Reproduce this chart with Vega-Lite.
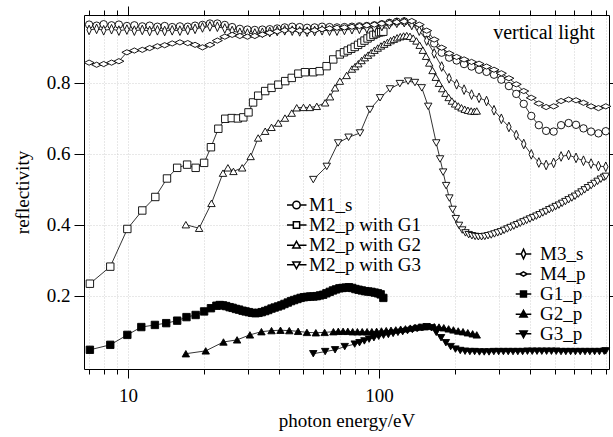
{
"$schema": "https://vega.github.io/schema/vega-lite/v6.json",
"width": 525, "height": 354,
"autosize": "none",
"padding": {"left": 84, "top": 15, "right": 4, "bottom": 68},
"config": {"font": "Liberation Serif", "view": {"stroke": null},
 "axis": {"labelFont": "Liberation Serif", "titleFont": "Liberation Serif", "labelFontSize": 19, "titleFontSize": 19, "titleFontWeight": "normal", "labelColor": "black", "titleColor": "black", "domainColor": "black", "tickColor": "black", "domainWidth": 1, "tickWidth": 1},
 "legend": {"symbolBaseStrokeColor": "black", "symbolBaseFillColor": "white"}},
"data": {"values": [
{"s":"M1_s","e":7,"r":0.963},{"s":"M1_s","e":7.5,"r":0.96},{"s":"M1_s","e":8,"r":0.964},{"s":"M1_s","e":8.6,"r":0.961},{"s":"M1_s","e":9.2,"r":0.963},{"s":"M1_s","e":9.9,"r":0.959},{"s":"M1_s","e":10.6,"r":0.961},{"s":"M1_s","e":11.4,"r":0.958},{"s":"M1_s","e":12.2,"r":0.96},{"s":"M1_s","e":13.1,"r":0.957},{"s":"M1_s","e":14,"r":0.959},{"s":"M1_s","e":15,"r":0.956},{"s":"M1_s","e":16.1,"r":0.958},{"s":"M1_s","e":17.3,"r":0.957},{"s":"M1_s","e":18.5,"r":0.96},{"s":"M1_s","e":19.8,"r":0.962},{"s":"M1_s","e":21.2,"r":0.966},{"s":"M1_s","e":22.7,"r":0.966},{"s":"M1_s","e":24.3,"r":0.962},{"s":"M1_s","e":26,"r":0.956},{"s":"M1_s","e":27.9,"r":0.951},{"s":"M1_s","e":29.9,"r":0.949},{"s":"M1_s","e":32,"r":0.948},{"s":"M1_s","e":34.3,"r":0.949},{"s":"M1_s","e":36.7,"r":0.95},{"s":"M1_s","e":39.3,"r":0.952},{"s":"M1_s","e":42.1,"r":0.955},{"s":"M1_s","e":45.1,"r":0.957},{"s":"M1_s","e":48.3,"r":0.956},{"s":"M1_s","e":51.7,"r":0.954},{"s":"M1_s","e":55.4,"r":0.955},{"s":"M1_s","e":59.3,"r":0.957},{"s":"M1_s","e":63.5,"r":0.956},{"s":"M1_s","e":68,"r":0.955},{"s":"M1_s","e":72.8,"r":0.956},{"s":"M1_s","e":78,"r":0.957},{"s":"M1_s","e":83.5,"r":0.958},{"s":"M1_s","e":89.4,"r":0.959},{"s":"M1_s","e":95.8,"r":0.961},{"s":"M1_s","e":102.6,"r":0.964},{"s":"M1_s","e":109.9,"r":0.968},{"s":"M1_s","e":117.7,"r":0.971},{"s":"M1_s","e":126,"r":0.972},{"s":"M1_s","e":135,"r":0.967},{"s":"M1_s","e":144.6,"r":0.955},{"s":"M1_s","e":154.8,"r":0.938},{"s":"M1_s","e":165.8,"r":0.91},{"s":"M1_s","e":177.6,"r":0.884},{"s":"M1_s","e":190.2,"r":0.87},{"s":"M1_s","e":203.7,"r":0.862},{"s":"M1_s","e":218.1,"r":0.852},{"s":"M1_s","e":233.6,"r":0.845},{"s":"M1_s","e":250.2,"r":0.836},{"s":"M1_s","e":268,"r":0.83},{"s":"M1_s","e":287,"r":0.822},{"s":"M1_s","e":307,"r":0.808},{"s":"M1_s","e":329,"r":0.79},{"s":"M1_s","e":352,"r":0.768},{"s":"M1_s","e":377,"r":0.74},{"s":"M1_s","e":404,"r":0.706},{"s":"M1_s","e":433,"r":0.68},{"s":"M1_s","e":463,"r":0.664},{"s":"M1_s","e":496,"r":0.662},{"s":"M1_s","e":531,"r":0.68},{"s":"M1_s","e":569,"r":0.686},{"s":"M1_s","e":609,"r":0.681},{"s":"M1_s","e":652,"r":0.671},{"s":"M1_s","e":699,"r":0.662},{"s":"M1_s","e":748,"r":0.657},{"s":"M1_s","e":800,"r":0.663},
{"s":"M3_s","e":7,"r":0.948},{"s":"M3_s","e":7.5,"r":0.951},{"s":"M3_s","e":8,"r":0.947},{"s":"M3_s","e":8.6,"r":0.95},{"s":"M3_s","e":9.2,"r":0.946},{"s":"M3_s","e":9.9,"r":0.949},{"s":"M3_s","e":10.6,"r":0.946},{"s":"M3_s","e":11.4,"r":0.948},{"s":"M3_s","e":12.2,"r":0.945},{"s":"M3_s","e":13.1,"r":0.947},{"s":"M3_s","e":14,"r":0.945},{"s":"M3_s","e":15,"r":0.947},{"s":"M3_s","e":16.1,"r":0.946},{"s":"M3_s","e":17.3,"r":0.948},{"s":"M3_s","e":18.5,"r":0.951},{"s":"M3_s","e":19.8,"r":0.955},{"s":"M3_s","e":21.2,"r":0.958},{"s":"M3_s","e":22.7,"r":0.957},{"s":"M3_s","e":24.3,"r":0.952},{"s":"M3_s","e":26,"r":0.945},{"s":"M3_s","e":27.9,"r":0.94},{"s":"M3_s","e":29.9,"r":0.938},{"s":"M3_s","e":32,"r":0.938},{"s":"M3_s","e":34.3,"r":0.94},{"s":"M3_s","e":36.7,"r":0.942},{"s":"M3_s","e":39.3,"r":0.945},{"s":"M3_s","e":42.1,"r":0.947},{"s":"M3_s","e":45.1,"r":0.946},{"s":"M3_s","e":48.3,"r":0.944},{"s":"M3_s","e":51.7,"r":0.943},{"s":"M3_s","e":55.4,"r":0.945},{"s":"M3_s","e":59.3,"r":0.947},{"s":"M3_s","e":63.5,"r":0.946},{"s":"M3_s","e":68,"r":0.946},{"s":"M3_s","e":72.8,"r":0.948},{"s":"M3_s","e":78,"r":0.95},{"s":"M3_s","e":83.5,"r":0.951},{"s":"M3_s","e":89.4,"r":0.953},{"s":"M3_s","e":95.8,"r":0.955},{"s":"M3_s","e":102.6,"r":0.959},{"s":"M3_s","e":109.9,"r":0.964},{"s":"M3_s","e":117.7,"r":0.968},{"s":"M3_s","e":126,"r":0.97},{"s":"M3_s","e":135,"r":0.962},{"s":"M3_s","e":144.6,"r":0.946},{"s":"M3_s","e":154.8,"r":0.918},{"s":"M3_s","e":165.8,"r":0.882},{"s":"M3_s","e":177.6,"r":0.845},{"s":"M3_s","e":190.2,"r":0.812},{"s":"M3_s","e":203.7,"r":0.795},{"s":"M3_s","e":218.1,"r":0.78},{"s":"M3_s","e":233.6,"r":0.766},{"s":"M3_s","e":250.2,"r":0.757},{"s":"M3_s","e":268,"r":0.748},{"s":"M3_s","e":287,"r":0.722},{"s":"M3_s","e":307,"r":0.698},{"s":"M3_s","e":329,"r":0.675},{"s":"M3_s","e":352,"r":0.652},{"s":"M3_s","e":377,"r":0.627},{"s":"M3_s","e":404,"r":0.598},{"s":"M3_s","e":433,"r":0.575},{"s":"M3_s","e":463,"r":0.568},{"s":"M3_s","e":496,"r":0.574},{"s":"M3_s","e":531,"r":0.592},{"s":"M3_s","e":569,"r":0.596},{"s":"M3_s","e":609,"r":0.588},{"s":"M3_s","e":652,"r":0.58},{"s":"M3_s","e":699,"r":0.572},{"s":"M3_s","e":748,"r":0.565},{"s":"M3_s","e":800,"r":0.563},
{"s":"M4_p","e":7,"r":0.856},{"s":"M4_p","e":7.5,"r":0.85},{"s":"M4_p","e":8,"r":0.852},{"s":"M4_p","e":8.6,"r":0.856},{"s":"M4_p","e":9.2,"r":0.86},{"s":"M4_p","e":9.9,"r":0.885},{"s":"M4_p","e":10.6,"r":0.89},{"s":"M4_p","e":11.4,"r":0.892},{"s":"M4_p","e":12.2,"r":0.897},{"s":"M4_p","e":13.1,"r":0.902},{"s":"M4_p","e":14,"r":0.905},{"s":"M4_p","e":15,"r":0.91},{"s":"M4_p","e":16.1,"r":0.913},{"s":"M4_p","e":17.3,"r":0.911},{"s":"M4_p","e":18.5,"r":0.906},{"s":"M4_p","e":19.8,"r":0.899},{"s":"M4_p","e":21.2,"r":0.906},{"s":"M4_p","e":22.7,"r":0.918},{"s":"M4_p","e":24.3,"r":0.929},{"s":"M4_p","e":26,"r":0.934},{"s":"M4_p","e":27.9,"r":0.931},{"s":"M4_p","e":29.9,"r":0.929},{"s":"M4_p","e":32,"r":0.931},{"s":"M4_p","e":34.3,"r":0.935},{"s":"M4_p","e":36.7,"r":0.94},{"s":"M4_p","e":39.3,"r":0.944},{"s":"M4_p","e":42.1,"r":0.947},{"s":"M4_p","e":45.1,"r":0.948},{"s":"M4_p","e":48.3,"r":0.946},{"s":"M4_p","e":51.7,"r":0.945},{"s":"M4_p","e":55.4,"r":0.947},{"s":"M4_p","e":59.3,"r":0.95},{"s":"M4_p","e":63.5,"r":0.952},{"s":"M4_p","e":68,"r":0.954},{"s":"M4_p","e":72.8,"r":0.955},{"s":"M4_p","e":78,"r":0.957},{"s":"M4_p","e":83.5,"r":0.959},{"s":"M4_p","e":89.4,"r":0.961},{"s":"M4_p","e":95.8,"r":0.963},{"s":"M4_p","e":102.6,"r":0.966},{"s":"M4_p","e":109.9,"r":0.968},{"s":"M4_p","e":117.7,"r":0.97},{"s":"M4_p","e":126,"r":0.972},{"s":"M4_p","e":135,"r":0.973},{"s":"M4_p","e":144.6,"r":0.963},{"s":"M4_p","e":154.8,"r":0.946},{"s":"M4_p","e":165.8,"r":0.921},{"s":"M4_p","e":177.6,"r":0.898},{"s":"M4_p","e":190.2,"r":0.882},{"s":"M4_p","e":203.7,"r":0.872},{"s":"M4_p","e":218.1,"r":0.865},{"s":"M4_p","e":233.6,"r":0.858},{"s":"M4_p","e":250.2,"r":0.853},{"s":"M4_p","e":268,"r":0.845},{"s":"M4_p","e":287,"r":0.836},{"s":"M4_p","e":307,"r":0.826},{"s":"M4_p","e":329,"r":0.812},{"s":"M4_p","e":352,"r":0.795},{"s":"M4_p","e":377,"r":0.776},{"s":"M4_p","e":404,"r":0.757},{"s":"M4_p","e":433,"r":0.741},{"s":"M4_p","e":463,"r":0.731},{"s":"M4_p","e":496,"r":0.733},{"s":"M4_p","e":531,"r":0.748},{"s":"M4_p","e":569,"r":0.752},{"s":"M4_p","e":609,"r":0.75},{"s":"M4_p","e":652,"r":0.743},{"s":"M4_p","e":699,"r":0.733},{"s":"M4_p","e":748,"r":0.728},{"s":"M4_p","e":800,"r":0.733},
{"s":"M2_p with G1","e":7.05,"r":0.234},{"s":"M2_p with G1","e":8.5,"r":0.282},{"s":"M2_p with G1","e":9.94,"r":0.388},{"s":"M2_p with G1","e":11.4,"r":0.44},{"s":"M2_p with G1","e":12.85,"r":0.478},{"s":"M2_p with G1","e":14.3,"r":0.53},{"s":"M2_p with G1","e":15.7,"r":0.56},{"s":"M2_p with G1","e":17.2,"r":0.569},{"s":"M2_p with G1","e":18.6,"r":0.56},{"s":"M2_p with G1","e":20.1,"r":0.574},{"s":"M2_p with G1","e":21.4,"r":0.618},{"s":"M2_p with G1","e":22.9,"r":0.67},{"s":"M2_p with G1","e":24.4,"r":0.698},{"s":"M2_p with G1","e":25.9,"r":0.7},{"s":"M2_p with G1","e":27.4,"r":0.699},{"s":"M2_p with G1","e":28.8,"r":0.702},{"s":"M2_p with G1","e":30.2,"r":0.716},{"s":"M2_p with G1","e":31.5,"r":0.744},{"s":"M2_p with G1","e":33,"r":0.763},{"s":"M2_p with G1","e":35.2,"r":0.776},{"s":"M2_p with G1","e":37.3,"r":0.785},{"s":"M2_p with G1","e":39.7,"r":0.794},{"s":"M2_p with G1","e":42.3,"r":0.804},{"s":"M2_p with G1","e":44.9,"r":0.813},{"s":"M2_p with G1","e":47.7,"r":0.825},{"s":"M2_p with G1","e":50.7,"r":0.829},{"s":"M2_p with G1","e":54.7,"r":0.829},{"s":"M2_p with G1","e":58,"r":0.832},{"s":"M2_p with G1","e":61.8,"r":0.846},{"s":"M2_p with G1","e":65.7,"r":0.865},{"s":"M2_p with G1","e":69.8,"r":0.879},{"s":"M2_p with G1","e":72.5,"r":0.885},{"s":"M2_p with G1","e":75,"r":0.89},{"s":"M2_p with G1","e":77.5,"r":0.895},{"s":"M2_p with G1","e":80,"r":0.9},{"s":"M2_p with G1","e":82.5,"r":0.906},{"s":"M2_p with G1","e":85,"r":0.912},{"s":"M2_p with G1","e":87.5,"r":0.918},{"s":"M2_p with G1","e":90,"r":0.924},{"s":"M2_p with G1","e":92.5,"r":0.929},{"s":"M2_p with G1","e":95,"r":0.934},{"s":"M2_p with G1","e":97.5,"r":0.938},{"s":"M2_p with G1","e":100,"r":0.941},{"s":"M2_p with G1","e":102,"r":0.942},{"s":"M2_p with G1","e":104,"r":0.943},
{"s":"M2_p with G2","e":17,"r":0.4},{"s":"M2_p with G2","e":19.2,"r":0.39},{"s":"M2_p with G2","e":21.5,"r":0.46},{"s":"M2_p with G2","e":23.9,"r":0.545},{"s":"M2_p with G2","e":25,"r":0.56},{"s":"M2_p with G2","e":26.3,"r":0.55},{"s":"M2_p with G2","e":28.5,"r":0.56},{"s":"M2_p with G2","e":30.8,"r":0.592},{"s":"M2_p with G2","e":33,"r":0.644},{"s":"M2_p with G2","e":35.2,"r":0.663},{"s":"M2_p with G2","e":37.3,"r":0.674},{"s":"M2_p with G2","e":39.7,"r":0.686},{"s":"M2_p with G2","e":42.2,"r":0.7},{"s":"M2_p with G2","e":44.9,"r":0.714},{"s":"M2_p with G2","e":47,"r":0.729},{"s":"M2_p with G2","e":50,"r":0.73},{"s":"M2_p with G2","e":53,"r":0.73},{"s":"M2_p with G2","e":56.5,"r":0.733},{"s":"M2_p with G2","e":61,"r":0.743},{"s":"M2_p with G2","e":63.8,"r":0.76},{"s":"M2_p with G2","e":66.8,"r":0.785},{"s":"M2_p with G2","e":69.8,"r":0.804},{"s":"M2_p with G2","e":74.3,"r":0.82},{"s":"M2_p with G2","e":78,"r":0.838},{"s":"M2_p with G2","e":80.3,"r":0.845},{"s":"M2_p with G2","e":82.7,"r":0.853},{"s":"M2_p with G2","e":85.2,"r":0.862},{"s":"M2_p with G2","e":87.8,"r":0.87},{"s":"M2_p with G2","e":90.4,"r":0.877},{"s":"M2_p with G2","e":93.1,"r":0.884},{"s":"M2_p with G2","e":95.9,"r":0.891},{"s":"M2_p with G2","e":98.8,"r":0.897},{"s":"M2_p with G2","e":101.8,"r":0.903},{"s":"M2_p with G2","e":104.8,"r":0.908},{"s":"M2_p with G2","e":108,"r":0.913},{"s":"M2_p with G2","e":111.2,"r":0.918},{"s":"M2_p with G2","e":114.5,"r":0.922},{"s":"M2_p with G2","e":118,"r":0.926},{"s":"M2_p with G2","e":121.5,"r":0.929},{"s":"M2_p with G2","e":125.2,"r":0.931},{"s":"M2_p with G2","e":128.9,"r":0.932},{"s":"M2_p with G2","e":132.8,"r":0.93},{"s":"M2_p with G2","e":136.8,"r":0.925},{"s":"M2_p with G2","e":140.9,"r":0.917},{"s":"M2_p with G2","e":145.1,"r":0.905},{"s":"M2_p with G2","e":149.4,"r":0.891},{"s":"M2_p with G2","e":153.9,"r":0.874},{"s":"M2_p with G2","e":158.5,"r":0.855},{"s":"M2_p with G2","e":163.3,"r":0.834},{"s":"M2_p with G2","e":168.2,"r":0.815},{"s":"M2_p with G2","e":173.2,"r":0.798},{"s":"M2_p with G2","e":178.4,"r":0.783},{"s":"M2_p with G2","e":183.8,"r":0.77},{"s":"M2_p with G2","e":189.3,"r":0.758},{"s":"M2_p with G2","e":195,"r":0.748},{"s":"M2_p with G2","e":200.8,"r":0.74},{"s":"M2_p with G2","e":206.8,"r":0.734},{"s":"M2_p with G2","e":213,"r":0.729},{"s":"M2_p with G2","e":219.4,"r":0.725},{"s":"M2_p with G2","e":226,"r":0.722},{"s":"M2_p with G2","e":232.8,"r":0.72},{"s":"M2_p with G2","e":239.8,"r":0.719},{"s":"M2_p with G2","e":245,"r":0.72},
{"s":"M2_p with G3","e":54.7,"r":0.527},{"s":"M2_p with G3","e":61.9,"r":0.564},{"s":"M2_p with G3","e":68.7,"r":0.63},{"s":"M2_p with G3","e":75.6,"r":0.646},{"s":"M2_p with G3","e":84,"r":0.658},{"s":"M2_p with G3","e":92,"r":0.724},{"s":"M2_p with G3","e":100.9,"r":0.757},{"s":"M2_p with G3","e":110.5,"r":0.782},{"s":"M2_p with G3","e":121,"r":0.797},{"s":"M2_p with G3","e":130.5,"r":0.804},{"s":"M2_p with G3","e":139,"r":0.8},{"s":"M2_p with G3","e":148,"r":0.785},{"s":"M2_p with G3","e":157,"r":0.733},{"s":"M2_p with G3","e":169,"r":0.63},{"s":"M2_p with G3","e":175,"r":0.585},{"s":"M2_p with G3","e":180,"r":0.548},{"s":"M2_p with G3","e":185,"r":0.51},{"s":"M2_p with G3","e":190.6,"r":0.475},{"s":"M2_p with G3","e":196.3,"r":0.443},{"s":"M2_p with G3","e":202.2,"r":0.417},{"s":"M2_p with G3","e":208.2,"r":0.398},{"s":"M2_p with G3","e":214.5,"r":0.385},{"s":"M2_p with G3","e":220.9,"r":0.377},{"s":"M2_p with G3","e":227.5,"r":0.372},{"s":"M2_p with G3","e":234.4,"r":0.369},{"s":"M2_p with G3","e":241.4,"r":0.367},{"s":"M2_p with G3","e":248.6,"r":0.366},{"s":"M2_p with G3","e":256.1,"r":0.366},{"s":"M2_p with G3","e":263.8,"r":0.367},{"s":"M2_p with G3","e":271.7,"r":0.369},{"s":"M2_p with G3","e":279.8,"r":0.371},{"s":"M2_p with G3","e":288.2,"r":0.374},{"s":"M2_p with G3","e":296.9,"r":0.377},{"s":"M2_p with G3","e":305.8,"r":0.38},{"s":"M2_p with G3","e":315,"r":0.384},{"s":"M2_p with G3","e":324.4,"r":0.388},{"s":"M2_p with G3","e":334.1,"r":0.392},{"s":"M2_p with G3","e":344.2,"r":0.396},{"s":"M2_p with G3","e":354.5,"r":0.4},{"s":"M2_p with G3","e":365.1,"r":0.404},{"s":"M2_p with G3","e":376.1,"r":0.408},{"s":"M2_p with G3","e":387.4,"r":0.412},{"s":"M2_p with G3","e":399,"r":0.416},{"s":"M2_p with G3","e":411,"r":0.42},{"s":"M2_p with G3","e":423.3,"r":0.424},{"s":"M2_p with G3","e":436,"r":0.428},{"s":"M2_p with G3","e":449,"r":0.433},{"s":"M2_p with G3","e":462.5,"r":0.437},{"s":"M2_p with G3","e":476.4,"r":0.442},{"s":"M2_p with G3","e":490.7,"r":0.446},{"s":"M2_p with G3","e":505.4,"r":0.451},{"s":"M2_p with G3","e":520.6,"r":0.455},{"s":"M2_p with G3","e":536.2,"r":0.46},{"s":"M2_p with G3","e":552.3,"r":0.465},{"s":"M2_p with G3","e":568.8,"r":0.47},{"s":"M2_p with G3","e":585.9,"r":0.475},{"s":"M2_p with G3","e":603.5,"r":0.48},{"s":"M2_p with G3","e":621.6,"r":0.486},{"s":"M2_p with G3","e":640.2,"r":0.492},{"s":"M2_p with G3","e":659.4,"r":0.498},{"s":"M2_p with G3","e":679.2,"r":0.504},{"s":"M2_p with G3","e":699.6,"r":0.51},{"s":"M2_p with G3","e":720.6,"r":0.516},{"s":"M2_p with G3","e":742.2,"r":0.522},{"s":"M2_p with G3","e":764.5,"r":0.528},{"s":"M2_p with G3","e":787.4,"r":0.533},{"s":"M2_p with G3","e":800,"r":0.536},
{"s":"G1_p","e":7.05,"r":0.048},{"s":"G1_p","e":8.5,"r":0.062},{"s":"G1_p","e":9.94,"r":0.09},{"s":"G1_p","e":11.3,"r":0.112},{"s":"G1_p","e":12.8,"r":0.118},{"s":"G1_p","e":14.2,"r":0.123},{"s":"G1_p","e":15.7,"r":0.13},{"s":"G1_p","e":17.1,"r":0.14},{"s":"G1_p","e":18.6,"r":0.146},{"s":"G1_p","e":20.1,"r":0.156},{"s":"G1_p","e":21.4,"r":0.165},{"s":"G1_p","e":22.5,"r":0.172},{"s":"G1_p","e":23.2,"r":0.174},{"s":"G1_p","e":23.9,"r":0.173},{"s":"G1_p","e":24.6,"r":0.171},{"s":"G1_p","e":25.4,"r":0.168},{"s":"G1_p","e":26.1,"r":0.166},{"s":"G1_p","e":26.9,"r":0.163},{"s":"G1_p","e":27.7,"r":0.161},{"s":"G1_p","e":28.6,"r":0.158},{"s":"G1_p","e":29.4,"r":0.156},{"s":"G1_p","e":30.3,"r":0.154},{"s":"G1_p","e":31.2,"r":0.152},{"s":"G1_p","e":32.2,"r":0.151},{"s":"G1_p","e":33.1,"r":0.152},{"s":"G1_p","e":34.1,"r":0.154},{"s":"G1_p","e":35.2,"r":0.157},{"s":"G1_p","e":36.2,"r":0.16},{"s":"G1_p","e":37.3,"r":0.164},{"s":"G1_p","e":38.4,"r":0.167},{"s":"G1_p","e":39.6,"r":0.17},{"s":"G1_p","e":40.8,"r":0.173},{"s":"G1_p","e":42,"r":0.177},{"s":"G1_p","e":43.3,"r":0.181},{"s":"G1_p","e":44.6,"r":0.185},{"s":"G1_p","e":45.9,"r":0.188},{"s":"G1_p","e":47.3,"r":0.191},{"s":"G1_p","e":48.7,"r":0.194},{"s":"G1_p","e":50.2,"r":0.196},{"s":"G1_p","e":51.7,"r":0.197},{"s":"G1_p","e":53.2,"r":0.198},{"s":"G1_p","e":54.8,"r":0.198},{"s":"G1_p","e":56.5,"r":0.199},{"s":"G1_p","e":58.2,"r":0.201},{"s":"G1_p","e":59.9,"r":0.203},{"s":"G1_p","e":61.7,"r":0.207},{"s":"G1_p","e":63.6,"r":0.211},{"s":"G1_p","e":65.5,"r":0.215},{"s":"G1_p","e":67.4,"r":0.218},{"s":"G1_p","e":69.5,"r":0.221},{"s":"G1_p","e":71.5,"r":0.222},{"s":"G1_p","e":73.7,"r":0.223},{"s":"G1_p","e":75.9,"r":0.224},{"s":"G1_p","e":78.2,"r":0.222},{"s":"G1_p","e":80.5,"r":0.219},{"s":"G1_p","e":82.9,"r":0.217},{"s":"G1_p","e":85.4,"r":0.215},{"s":"G1_p","e":88,"r":0.213},{"s":"G1_p","e":90.6,"r":0.212},{"s":"G1_p","e":93.3,"r":0.211},{"s":"G1_p","e":96.1,"r":0.209},{"s":"G1_p","e":99,"r":0.207},{"s":"G1_p","e":101.5,"r":0.204},{"s":"G1_p","e":104,"r":0.194},
{"s":"G2_p","e":17,"r":0.037},{"s":"G2_p","e":20.4,"r":0.045},{"s":"G2_p","e":24,"r":0.07},{"s":"G2_p","e":27.2,"r":0.076},{"s":"G2_p","e":30.6,"r":0.09},{"s":"G2_p","e":34,"r":0.099},{"s":"G2_p","e":37.3,"r":0.102},{"s":"G2_p","e":40.5,"r":0.103},{"s":"G2_p","e":43.9,"r":0.102},{"s":"G2_p","e":47.6,"r":0.1},{"s":"G2_p","e":51.6,"r":0.097},{"s":"G2_p","e":56,"r":0.096},{"s":"G2_p","e":60.7,"r":0.097},{"s":"G2_p","e":65.8,"r":0.099},{"s":"G2_p","e":68.8,"r":0.1},{"s":"G2_p","e":71.9,"r":0.1},{"s":"G2_p","e":75.1,"r":0.1},{"s":"G2_p","e":78.5,"r":0.099},{"s":"G2_p","e":82,"r":0.099},{"s":"G2_p","e":85.7,"r":0.099},{"s":"G2_p","e":89.6,"r":0.099},{"s":"G2_p","e":93.6,"r":0.099},{"s":"G2_p","e":97.8,"r":0.1},{"s":"G2_p","e":102.2,"r":0.101},{"s":"G2_p","e":106.8,"r":0.102},{"s":"G2_p","e":111.6,"r":0.103},{"s":"G2_p","e":116.6,"r":0.104},{"s":"G2_p","e":121.9,"r":0.106},{"s":"G2_p","e":127.4,"r":0.107},{"s":"G2_p","e":133.1,"r":0.109},{"s":"G2_p","e":139.1,"r":0.111},{"s":"G2_p","e":145.4,"r":0.112},{"s":"G2_p","e":151.9,"r":0.113},{"s":"G2_p","e":158.7,"r":0.114},{"s":"G2_p","e":165.9,"r":0.113},{"s":"G2_p","e":173.3,"r":0.112},{"s":"G2_p","e":181.1,"r":0.11},{"s":"G2_p","e":189.3,"r":0.107},{"s":"G2_p","e":197.8,"r":0.104},{"s":"G2_p","e":206.7,"r":0.101},{"s":"G2_p","e":216,"r":0.099},{"s":"G2_p","e":225.7,"r":0.096},{"s":"G2_p","e":235.9,"r":0.093},{"s":"G2_p","e":245,"r":0.09},
{"s":"G3_p","e":54.7,"r":0.037},{"s":"G3_p","e":61,"r":0.043},{"s":"G3_p","e":66.8,"r":0.048},{"s":"G3_p","e":73,"r":0.057},{"s":"G3_p","e":80,"r":0.064},{"s":"G3_p","e":83.6,"r":0.068},{"s":"G3_p","e":87.4,"r":0.073},{"s":"G3_p","e":91.3,"r":0.078},{"s":"G3_p","e":95.4,"r":0.082},{"s":"G3_p","e":99.7,"r":0.086},{"s":"G3_p","e":104.2,"r":0.089},{"s":"G3_p","e":108.9,"r":0.091},{"s":"G3_p","e":113.8,"r":0.094},{"s":"G3_p","e":118.9,"r":0.097},{"s":"G3_p","e":124.2,"r":0.099},{"s":"G3_p","e":129.8,"r":0.102},{"s":"G3_p","e":135.7,"r":0.105},{"s":"G3_p","e":141.8,"r":0.108},{"s":"G3_p","e":148.1,"r":0.111},{"s":"G3_p","e":154.8,"r":0.113},{"s":"G3_p","e":161.8,"r":0.11},{"s":"G3_p","e":169,"r":0.097},{"s":"G3_p","e":176.6,"r":0.082},{"s":"G3_p","e":184.6,"r":0.068},{"s":"G3_p","e":192.9,"r":0.057},{"s":"G3_p","e":201.5,"r":0.05},{"s":"G3_p","e":210.6,"r":0.046},{"s":"G3_p","e":220.1,"r":0.044},{"s":"G3_p","e":230,"r":0.043},{"s":"G3_p","e":240.3,"r":0.043},{"s":"G3_p","e":251.1,"r":0.042},{"s":"G3_p","e":262.4,"r":0.042},{"s":"G3_p","e":274.2,"r":0.042},{"s":"G3_p","e":286.6,"r":0.043},{"s":"G3_p","e":299.5,"r":0.043},{"s":"G3_p","e":312.9,"r":0.043},{"s":"G3_p","e":327,"r":0.043},{"s":"G3_p","e":341.7,"r":0.043},{"s":"G3_p","e":357.1,"r":0.043},{"s":"G3_p","e":373.2,"r":0.043},{"s":"G3_p","e":390,"r":0.044},{"s":"G3_p","e":407.5,"r":0.044},{"s":"G3_p","e":425.8,"r":0.044},{"s":"G3_p","e":445,"r":0.044},{"s":"G3_p","e":465,"r":0.044},{"s":"G3_p","e":486,"r":0.044},{"s":"G3_p","e":507.8,"r":0.044},{"s":"G3_p","e":530.7,"r":0.043},{"s":"G3_p","e":554.6,"r":0.043},{"s":"G3_p","e":579.5,"r":0.043},{"s":"G3_p","e":605.6,"r":0.043},{"s":"G3_p","e":632.9,"r":0.043},{"s":"G3_p","e":661.3,"r":0.043},{"s":"G3_p","e":691.1,"r":0.043},{"s":"G3_p","e":722.2,"r":0.043},{"s":"G3_p","e":754.7,"r":0.043},{"s":"G3_p","e":788.7,"r":0.044},{"s":"G3_p","e":800,"r":0.045}
]},
"resolve": {"scale": {"shape": "independent", "fill": "independent"}, "axis": {"x": "independent", "y": "independent"}, "legend": {"shape": "independent", "fill": "independent"}},
"layer": [
 {"mark": {"type": "line", "color": "black", "strokeWidth": 0.8},
  "encoding": {
   "x": {"field": "e", "type": "quantitative", "scale": {"type": "log", "domain": [6.68, 824], "nice": false},
     "axis": {"orient": "bottom", "title": "photon energy/eV", "values": [7,8,9,10,20,30,40,50,60,70,80,90,100,200,300,400,500,600,700,800],
       "labelExpr": "datum.value == 10 || datum.value == 100 ? datum.label : ''",
       "tickSize": {"condition": {"test": "datum.value == 10 || datum.value == 100", "value": 9}, "value": 5},
       "labelPadding": 8, "titlePadding": 6, "grid": true, "gridDash": [1, 2], "gridColor": "#c4c4c4", "gridWidth": 0.8}},
   "y": {"field": "r", "type": "quantitative", "scale": {"domain": [-0.006, 0.99], "nice": false, "zero": false},
     "axis": {"orient": "left", "title": "reflectivity", "values": [0.2, 0.4, 0.6, 0.8], "format": ".1f", "tickSize": 10, "labelPadding": 4, "titlePadding": 14,
       "grid": true, "gridDash": [1, 2], "gridColor": "#c4c4c4", "gridWidth": 0.8}},
   "detail": {"field": "s"}}},
 {"transform": [{"filter": {"field": "s", "oneOf": ["M1_s", "M2_p with G1", "M2_p with G2", "M2_p with G3"]}}],
  "mark": {"type": "point", "filled": false, "stroke": "black", "strokeWidth": 0.9, "size": 55, "opacity": 1, "fillOpacity": 1},
  "encoding": {
   "x": {"field": "e", "type": "quantitative", "axis": {"orient": "top", "title": null, "labels": false, "values": [7,8,9,10,20,30,40,50,60,70,80,90,100,200,300,400,500,600,700,800],
      "tickSize": {"condition": {"test": "datum.value == 10 || datum.value == 100", "value": 9}, "value": 5}, "grid": false}},
   "y": {"field": "r", "type": "quantitative", "axis": {"orient": "right", "title": null, "labels": false, "values": [0.2, 0.4, 0.6, 0.8], "tickSize": 5, "grid": false}},
   "shape": {"field": "s", "type": "nominal", "legend": null,
     "scale": {"domain": ["M1_s", "M2_p with G1", "M2_p with G2", "M2_p with G3", "none"], "range": ["circle", "square", "triangle-up", "triangle-down", "circle"]}},
   "fill": {"field": "s", "type": "nominal",
     "scale": {"domain": ["M1_s", "M2_p with G1", "M2_p with G2", "M2_p with G3"], "range": ["white", "white", "white", "white"]},
     "legend": {"orient": "none", "legendX": 203, "legendY": 180.5, "title": null, "labelFont": "Liberation Serif", "labelFontSize": 19, "labelColor": "black",
       "symbolSize": 55, "clipHeight": 19, "rowPadding": 0, "labelOffset": 3,
       "symbolType": {"expr": "datum.value == 'M1_s' ? 'M-2.7,0H-1M1,0H2.7M1,0A1,1,0,1,1,-1,0A1,1,0,1,1,1,0Z' : datum.value == 'M2_p with G1' ? 'M-2.7,0H-0.85M0.85,0H2.7M-0.85,-0.85H0.85V0.85H-0.85Z' : datum.value == 'M2_p with G2' ? 'M-2.7,0.1H-0.6M0.6,0.1H2.7M0,-1L1,0.8L-1,0.8Z' : 'M-2.7,-0.1H-0.6M0.6,-0.1H2.7M0,1L1,-0.8L-1,-0.8Z'"},
       "encode": {"symbols": {"stroke": {"value": "black"}, "strokeWidth": {"value": 0.9}, "strokeOpacity": {"value": 1}}}}}}},
 {"transform": [{"filter": {"field": "s", "oneOf": ["M3_s", "M4_p", "G1_p", "G2_p", "G3_p"]}}],
  "mark": {"type": "point", "filled": false, "stroke": "black", "strokeWidth": 0.9, "size": 55, "opacity": 1, "fillOpacity": 1},
  "encoding": {
   "x": {"field": "e", "type": "quantitative", "axis": null},
   "y": {"field": "r", "type": "quantitative", "axis": null},
   "shape": {"field": "s", "type": "nominal", "legend": null,
     "scale": {"domain": ["M3_s", "M4_p", "G1_p", "G2_p", "G3_p", "none"], "range": ["M0,-1.3L0.6,0L0,1.3L-0.6,0Z", "M0,-0.7L1.35,0L0,0.7L-1.35,0Z", "square", "triangle-up", "triangle-down", "circle"]}},
   "fill": {"field": "s", "type": "nominal",
     "scale": {"domain": ["M3_s", "M4_p", "G1_p", "G2_p", "G3_p"], "range": ["white", "white", "black", "black", "black"]},
     "legend": {"orient": "none", "legendX": 430, "legendY": 229.75, "title": null, "labelFont": "Liberation Serif", "labelFontSize": 19, "labelColor": "black",
       "symbolSize": 55, "clipHeight": 18.5, "rowPadding": 0, "labelOffset": 7,
       "symbolType": {"expr": "datum.value == 'M3_s' ? 'M-2.1,0H-0.6M0.6,0H2.1M0,-1.3L0.6,0L0,1.3L-0.6,0Z' : datum.value == 'M4_p' ? 'M-2.1,0H-1M1,0H2.1M0,-0.55L1,0L0,0.55L-1,0Z' : datum.value == 'G1_p' ? 'M-2.1,0H-0.8M0.8,0H2.1M-0.8,-0.8H0.8V0.8H-0.8Z' : datum.value == 'G2_p' ? 'M-2.1,0.1H-0.6M0.6,0.1H2.1M0,-1L1,0.8L-1,0.8Z' : 'M-2.1,-0.1H-0.6M0.6,-0.1H2.1M0,1L1,-0.8L-1,-0.8Z'"},
       "encode": {"symbols": {"stroke": {"value": "black"}, "strokeWidth": {"value": 0.9}, "strokeOpacity": {"value": 1}}}}}}},
 {"data": {"values": [{}]},
  "mark": {"type": "text", "text": "vertical light", "font": "Liberation Serif", "fontSize": 20, "color": "black", "align": "center", "baseline": "middle"},
  "encoding": {"x": {"datum": 454, "type": "quantitative", "axis": null}, "y": {"datum": 0.938, "type": "quantitative", "axis": null}}}
]
}
